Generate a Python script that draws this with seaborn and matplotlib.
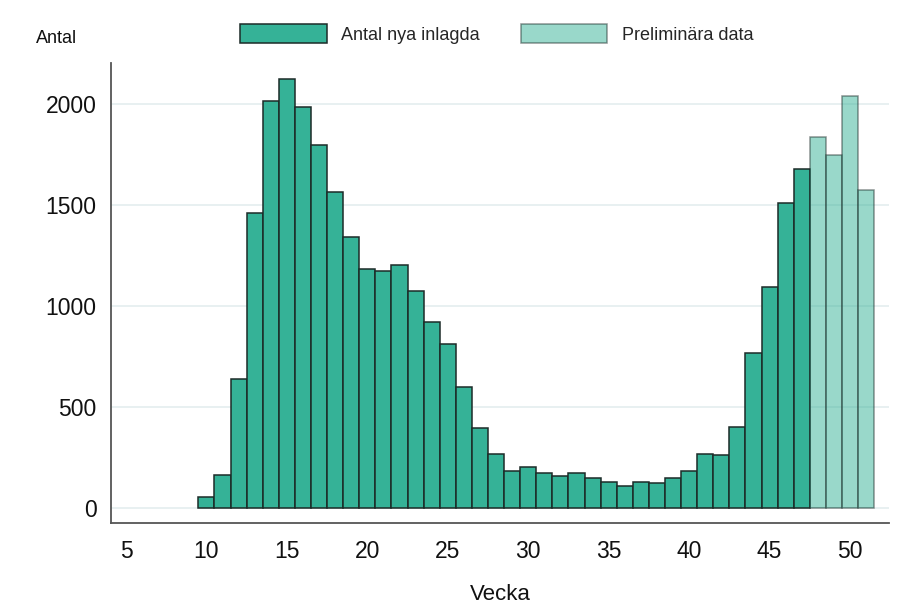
import matplotlib
matplotlib.use('Agg')
import matplotlib.pyplot as plt
import seaborn as sns

# weekly counts
weeks = list(range(10, 48))
counts = [57, 165, 638, 1463, 2015, 2125, 1988, 1798, 1564, 1345,
          1186, 1176, 1203, 1076, 921, 812, 602, 398, 270, 183,
          206, 173, 160, 173, 148, 132, 112, 132, 127, 148,
          186, 270, 265, 402, 767, 1094, 1513, 1680]
prelim_weeks = [48, 49, 50, 51]
prelim_counts = [1838, 1748, 2040, 1577]

y_ticks = [0, 500, 1000, 1500, 2000]
x_ticks = [5, 10, 15, 20, 25, 30, 35, 40, 45, 50]

teal = '#35b297'
edge = '#1c2b28'

sns.set_style('white')
plt.rcParams['font.family'] = ['Liberation Sans', 'DejaVu Sans']

fig = plt.figure(figsize=(9.19, 6.10), dpi=100)
ax = fig.add_axes([0.1208, 0.1431, 0.9677 - 0.1208, 0.8962 - 0.1431])

sns.barplot(x=weeks, y=counts, native_scale=True, width=1, color=teal,
            edgecolor=edge, linewidth=1.1, saturation=1, errorbar=None,
            label='Antal nya inlagda', ax=ax)
sns.barplot(x=prelim_weeks, y=prelim_counts, native_scale=True, width=1,
            color=teal, edgecolor=edge, linewidth=1.1, saturation=1,
            alpha=0.5, errorbar=None, label='Preliminära data', ax=ax)

ax.set_xlim(4.07, 52.44)
ax.set_ylim(-71, 2203)
ax.set_xticks(x_ticks)
ax.set_xticklabels([str(t) for t in x_ticks])
ax.set_yticks(y_ticks)
ax.set_yticklabels([str(t) for t in y_ticks])

ax.grid(axis='y', color='#e8f0f1', linewidth=1.4)
ax.grid(axis='x', visible=False)
ax.set_axisbelow(True)

for side in ['top', 'right']:
    ax.spines[side].set_visible(False)
for side in ['left', 'bottom']:
    ax.spines[side].set_color('#555555')
    ax.spines[side].set_linewidth(1.3)

ax.tick_params(axis='both', which='major', direction='out', length=6.5,
               width=1.0, color='#555555', labelsize=16.5, pad=4,
               labelcolor='#111111')
ax.tick_params(axis='x', pad=6)

ax.set_xlabel('Vecka', fontsize=16, color='#111111', labelpad=15)
ax.set_ylabel('')
fig.text(35.7 / 919, 1 - 38.5 / 610, 'Antal', fontsize=13, color='#111111',
         ha='left', va='center')

ax.legend(loc='center', bbox_to_anchor=(496.7 / 919, 1 - 34 / 610),
          bbox_transform=fig.transFigure, ncol=2, frameon=False,
          fontsize=13, handlelength=4.8, handleheight=1.27,
          handletextpad=0.8, columnspacing=2.26)

fig.savefig('out.png', dpi=100)
